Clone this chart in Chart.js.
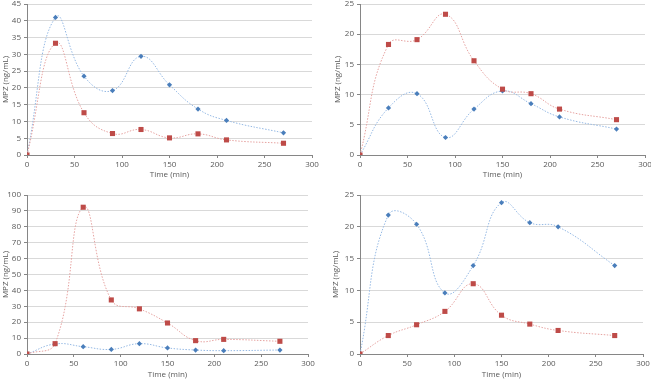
<!DOCTYPE html>
<html>
<head>
<meta charset="utf-8">
<script src="https://cdn.jsdelivr.net/npm/chart.js@4/dist/chart.umd.min.js"></script>
<style>
body { margin: 0; background: #fff; }
canvas { position: absolute; }
</style>
</head>
<body>
<canvas id="g1" width="325" height="190" style="left:0;top:0"></canvas>
<canvas id="g2" width="326" height="190" style="left:325px;top:0"></canvas>
<canvas id="g3" width="325" height="190" style="left:0;top:190px"></canvas>
<canvas id="g4" width="326" height="190" style="left:325px;top:190px"></canvas>
<script>
// tiempos de muestreo (min)
const tiempos = [0, 30, 60, 90, 120, 150, 180, 210, 270];

// panel 1 (arriba izq)
const azul1 = [0, 41.0, 23.5, 19.2, 29.4, 20.9, 13.7, 10.3, 6.6];
const rojo1 = [0, 33.3, 12.6, 6.4, 7.6, 5.1, 6.3, 4.5, 3.5];
// panel 2 (arriba der)
const azul2 = [0, 7.8, 10.15, 2.9, 7.6, 10.6, 8.5, 6.3, 4.3];
const rojo2 = [0, 18.3, 19.1, 23.3, 15.6, 10.9, 10.15, 7.6, 5.85];
// panel 3 (abajo izq)
const azul3 = [0, 6.3, 4.6, 2.9, 6.5, 3.8, 2.5, 2.1, 2.5];
const rojo3 = [0, 6.5, 92.3, 34.0, 28.4, 19.5, 8.4, 9.2, 8.0];
// panel 4 (abajo der)
const azul4 = [0, 21.85, 20.4, 9.6, 13.9, 23.8, 20.65, 20.0, 13.9];
const rojo4 = [0, 2.9, 4.6, 6.7, 11.05, 6.1, 4.7, 3.7, 2.9];

// ejes: [max, paso]
const ejeX = [300, 50];
const ejeY1 = [45, 5];
const ejeY2 = [25, 5];
const ejeY3 = [100, 10];
const ejeY4 = [25, 5];

const tituloX = 'Time (min)';
const tituloY = 'MPZ (ng/mL)';

const fuente = { family: 'Open Sans', size: 8 };
const gris = '#595959';

function puntos(valores) {
    return tiempos.map((t, i) => ({ x: t, y: valores[i] }));
}

function crearPanel(id, azul, rojo, ejeY, caja) {
    const ctx = document.getElementById(id).getContext('2d');
    return new Chart(ctx, {
        type: 'line',
        data: {
            datasets: [{
                data: puntos(rojo),
                borderColor: '#E6A3A1',
                borderWidth: 1,
                borderDash: [1.5, 1.5],
                tension: 0.45,
                pointStyle: 'rect',
                pointRadius: 3.6,
                pointBackgroundColor: '#BE4B48',
                pointBorderColor: '#BE4B48',
                pointBorderWidth: 0
            }, {
                data: puntos(azul),
                borderColor: '#95B9E4',
                borderWidth: 1,
                borderDash: [1.5, 1.5],
                tension: 0.45,
                pointStyle: 'rectRot',
                pointRadius: 2.6,
                pointBackgroundColor: '#4A7EBB',
                pointBorderColor: '#4A7EBB',
                pointBorderWidth: 0
            }]
        },
        options: {
            responsive: false,
            animation: false,
            layout: { padding: { left: caja.pl, top: caja.pt, right: caja.pr, bottom: 0 } },
            plugins: { legend: { display: false }, tooltip: { enabled: false } },
            scales: {
                x: {
                    type: 'linear',
                    min: 0,
                    max: ejeX[0],
                    ticks: { stepSize: ejeX[1], color: gris, font: fuente, padding: 2, maxRotation: 0 },
                    grid: { drawOnChartArea: false, tickLength: 3, tickColor: '#868686' },
                    border: { color: '#868686' },
                    title: { display: true, text: tituloX, color: gris, font: fuente, padding: { top: 0, bottom: caja.tb } },
                    afterFit: function (s) { s.height = caja.xh; s.paddingLeft = 0; s.paddingRight = 0; }
                },
                y: {
                    min: 0,
                    max: ejeY[0],
                    ticks: { stepSize: ejeY[1], color: gris, font: fuente, padding: 3 },
                    grid: { color: '#D9D9D9', tickLength: 3, tickColor: '#868686' },
                    border: { color: '#868686' },
                    title: { display: true, text: tituloY, color: gris, font: fuente, padding: { top: 1, bottom: 1 } },
                    afterFit: function (s) { s.width = caja.yw; s.paddingTop = 0; s.paddingBottom = 0; }
                }
            }
        }
    });
}

crearPanel('g1', azul1, rojo1, ejeY1, { pl: 0, pt: 3, pr: 13, yw: 27, xh: 35, tb: 10 });
crearPanel('g2', azul2, rojo2, ejeY2, { pl: 7, pt: 3, pr: 6, yw: 28, xh: 35, tb: 10 });
crearPanel('g3', azul3, rojo3, ejeY3, { pl: 0, pt: 5, pr: 17, yw: 27, xh: 26, tb: 0 });
crearPanel('g4', azul4, rojo4, ejeY4, { pl: 5, pt: 5, pr: 8, yw: 30, xh: 26, tb: 0 });
</script>
</body>
</html>
